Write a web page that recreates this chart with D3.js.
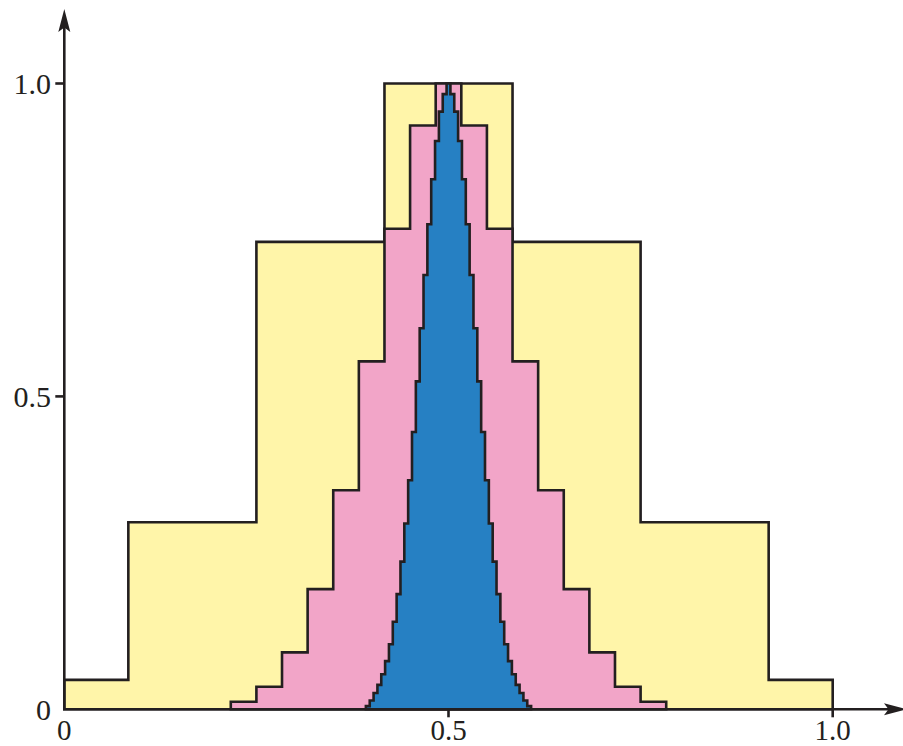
<!DOCTYPE html>
<html>
<head>
<meta charset="utf-8">
<script src="https://cdn.jsdelivr.net/npm/d3@7"></script>
<style>
  html, body { margin: 0; padding: 0; background: #fff; }
  svg { display: block; }
  text { font-family: "Liberation Serif", "Times New Roman", Times, serif; fill: #231f20; }
</style>
</head>
<body>
<script>
// Three step histograms of symmetric distributions, heights scaled to peak 1.

// Coarse histogram (7 bins, outer bins half width)
const yellowEdges = [0, 1/12, 3/12, 5/12, 7/12, 9/12, 11/12, 1];
const yellowHeights = [0.047, 0.299, 0.747, 1.0, 0.747, 0.299, 0.047];

// Medium histogram: bins of width 1/30 centred on k/30, k = 7 … 23
const pinkBinCount = 30;
const pinkFirstBin = 7;
const pinkHeights = [0.012, 0.036, 0.091, 0.192, 0.350, 0.556, 0.768, 0.933, 1.0,
                     0.933, 0.768, 0.556, 0.350, 0.192, 0.091, 0.036, 0.012];

// Fine histogram: bins of width 1/200 centred on k/200, k = 79 … 121
const blueBinCount = 200;
const blueFirstBin = 79;
const blueHeights = [0.005, 0.014, 0.026, 0.039, 0.056, 0.077, 0.104, 0.140, 0.184, 0.236,
                     0.297, 0.366, 0.443, 0.524, 0.609, 0.694, 0.775, 0.847, 0.908, 0.955,
                     0.983, 1.0,
                     0.983, 0.955, 0.908, 0.847, 0.775, 0.694, 0.609, 0.524, 0.443, 0.366,
                     0.297, 0.236, 0.184, 0.140, 0.104, 0.077, 0.056, 0.039, 0.026, 0.014, 0.005];

const xTicks = [0, 0.5, 1.0];
const xTickLabels = ["0", "0.5", "1.0"];
const yTicks = [0, 0.5, 1.0];
const yTickLabels = ["0", "0.5", "1.0"];

const W = 903, H = 746;
const ink = "#231f20";
const strokeW = 2.6;

const x = d3.scaleLinear().domain([0, 1]).range([64.3, 832.7]);
const y = d3.scaleLinear().domain([0, 1]).range([709.3, 83.5]);

const svg = d3.select("body").append("svg")
  .attr("width", W).attr("height", H);

// Turn a list of bins {lo, hi, h} into a closed step outline sitting on the axis
function stepPoints(bins) {
  const pts = [[bins[0].lo, 0]];
  bins.forEach(b => { pts.push([b.lo, b.h]); pts.push([b.hi, b.h]); });
  pts.push([bins[bins.length - 1].hi, 0]);
  return pts;
}

const line = d3.line().x(d => x(d[0])).y(d => y(d[1]));

const yellowBins = yellowHeights.map((h, i) => ({ lo: yellowEdges[i], hi: yellowEdges[i + 1], h }));
const pinkBins = pinkHeights.map((h, i) => {
  const k = pinkFirstBin + i;
  return { lo: (k - 0.5) / pinkBinCount, hi: (k + 0.5) / pinkBinCount, h };
});
const blueBins = blueHeights.map((h, i) => {
  const k = blueFirstBin + i;
  return { lo: (k - 0.5) / blueBinCount, hi: (k + 0.5) / blueBinCount, h };
});

const layers = [
  { bins: yellowBins, fill: "#fff5a9" },
  { bins: pinkBins, fill: "#f2a5c8" },
  { bins: blueBins, fill: "#2680c3" }
];

svg.append("g").selectAll("path")
  .data(layers)
  .join("path")
  .attr("d", d => line(stepPoints(d.bins)) + "Z")
  .attr("fill", d => d.fill)
  .attr("stroke", ink)
  .attr("stroke-width", strokeW)
  .attr("stroke-linejoin", "miter");

// Axes with arrowheads
const axes = svg.append("g");
const x0 = x(0), y0 = y(0);

axes.append("line")
  .attr("x1", x0).attr("y1", y0).attr("x2", x0).attr("y2", 26)
  .attr("stroke", ink).attr("stroke-width", strokeW);
axes.append("line")
  .attr("x1", x0 - strokeW / 2).attr("y1", y0).attr("x2", 890).attr("y2", y0)
  .attr("stroke", ink).attr("stroke-width", strokeW);

// arrowheads (concave back)
axes.append("path")
  .attr("d", `M${x0},9 L${x0 - 6},32 L${x0},27.5 L${x0 + 6},32 Z`)
  .attr("fill", ink);
axes.append("path")
  .attr("d", `M907,${y0} L884,${y0 - 6} L888.5,${y0} L884,${y0 + 6} Z`)
  .attr("fill", ink);

// ticks
axes.selectAll(".xt")
  .data(xTicks.filter(t => t > 0))
  .join("line")
  .attr("x1", d => x(d)).attr("x2", d => x(d))
  .attr("y1", y0).attr("y2", y0 + 8)
  .attr("stroke", ink).attr("stroke-width", strokeW);
axes.selectAll(".yt")
  .data(yTicks.filter(t => t > 0))
  .join("line")
  .attr("x1", x0 - 9).attr("x2", x0)
  .attr("y1", d => y(d)).attr("y2", d => y(d))
  .attr("stroke", ink).attr("stroke-width", strokeW);

// tick labels
axes.selectAll(".xl")
  .data(xTicks)
  .join("text")
  .attr("x", d => x(d))
  .attr("y", 739.5)
  .attr("text-anchor", "middle")
  .attr("font-size", 29)
  .text((d, i) => xTickLabels[i]);

axes.selectAll(".yl")
  .data(yTicks)
  .join("text")
  .attr("x", 51)
  .attr("y", d => y(d) + 10.5)
  .attr("text-anchor", "end")
  .attr("font-size", 30)
  .text((d, i) => yTickLabels[i]);
</script>
</body>
</html>
